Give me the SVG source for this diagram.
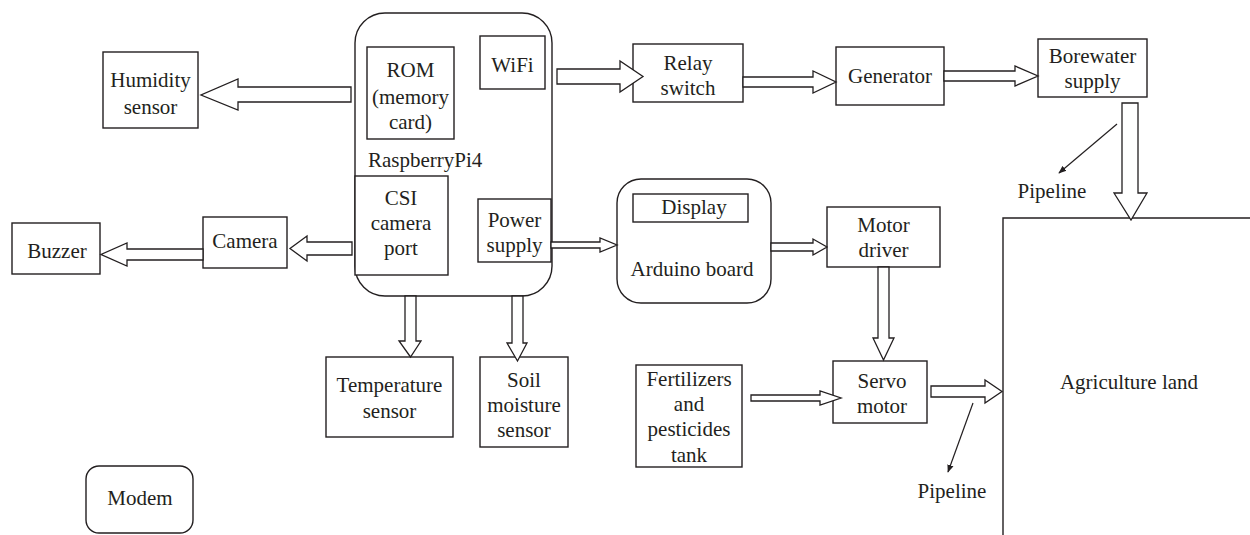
<svg xmlns="http://www.w3.org/2000/svg" width="1250" height="535" viewBox="0 0 1250 535">
<defs>
<style>
.box{fill:#fff;stroke:#231f20;stroke-width:1.4}
.ln{fill:none;stroke:#231f20;stroke-width:1.4}
.ar{fill:#fff;stroke:#231f20;stroke-width:1.3;stroke-linejoin:miter}
.pl{fill:none;stroke:#231f20;stroke-width:1.2}
text{font-family:"Liberation Serif","Times New Roman",serif;font-size:21px;fill:#231f20;text-anchor:middle}
</style>
<marker id="ah" viewBox="0 0 10 10" refX="9" refY="5" markerWidth="8" markerHeight="8" markerUnits="userSpaceOnUse" orient="auto"><path d="M0,1 L10,5 L0,9 z" fill="#231f20"/></marker>
</defs>
<rect width="1250" height="535" fill="#fff"/>

<g id="raspberry">
<rect class="box" x="355" y="13" width="197" height="283" rx="30"/>
<text x="368" y="167" style="text-anchor:start">RaspberryPi4</text>
</g>
<g id="rom">
<rect class="box" x="367" y="47" width="87" height="92"/>
<text x="410.5" y="77">ROM</text>
<text x="410.5" y="104">(memory</text>
<text x="410.5" y="129">card)</text>
</g>
<g id="wifi">
<rect class="box" x="480" y="36" width="65" height="53"/>
<text x="512.5" y="72">WiFi</text>
</g>
<g id="csi">
<rect class="box" x="355" y="176" width="93" height="99"/>
<text x="401" y="205">CSI</text>
<text x="401" y="230">camera</text>
<text x="401" y="255">port</text>
</g>
<g id="power">
<rect class="box" x="478" y="199" width="73" height="63"/>
<text x="514.5" y="227">Power</text>
<text x="514.5" y="252">supply</text>
</g>
<g id="humidity">
<rect class="box" x="103" y="52" width="95" height="76"/>
<text x="150.5" y="87">Humidity</text>
<text x="150.5" y="114">sensor</text>
</g>
<g id="relay">
<rect class="box" x="633" y="44" width="110" height="58"/>
<text x="688" y="70">Relay</text>
<text x="688" y="95">switch</text>
</g>
<g id="generator">
<rect class="box" x="836" y="47" width="108" height="58"/>
<text x="890" y="83">Generator</text>
</g>
<g id="borewater">
<rect class="box" x="1038" y="39" width="109" height="58"/>
<text x="1092.5" y="63">Borewater</text>
<text x="1092.5" y="88">supply</text>
</g>
<g id="arduino">
<rect class="box" x="617" y="179" width="154" height="124" rx="24"/>
<text x="692" y="276">Arduino board</text>
</g>
<g id="display">
<rect class="box" x="633" y="194" width="115" height="28"/>
<text x="694" y="214">Display</text>
</g>
<g id="motordriver">
<rect class="box" x="827" y="207" width="113" height="60"/>
<text x="883.5" y="232">Motor</text>
<text x="883.5" y="257">driver</text>
</g>
<g id="camera">
<rect class="box" x="203" y="217" width="84" height="51"/>
<text x="245" y="248">Camera</text>
</g>
<g id="buzzer">
<rect class="box" x="12" y="223" width="88" height="51"/>
<text x="57" y="258">Buzzer</text>
</g>
<g id="temperature">
<rect class="box" x="326" y="357" width="127" height="80"/>
<text x="389.5" y="392">Temperature</text>
<text x="389.5" y="418">sensor</text>
</g>
<g id="soil">
<rect class="box" x="480" y="357" width="88" height="90"/>
<text x="524" y="387">Soil</text>
<text x="524" y="412">moisture</text>
<text x="524" y="437">sensor</text>
</g>
<g id="fertilizers">
<rect class="box" x="636" y="365" width="106" height="102"/>
<text x="689" y="386">Fertilizers</text>
<text x="689" y="411">and</text>
<text x="689" y="436">pesticides</text>
<text x="689" y="462">tank</text>
</g>
<g id="servo">
<rect class="box" x="833" y="361" width="94" height="62"/>
<text x="882" y="388">Servo</text>
<text x="882" y="413">motor</text>
</g>
<g id="agriculture">
<path class="ln" d="M1003,535 V218 H1250"/>
<text x="1129" y="389">Agriculture land</text>
</g>
<g id="modem">
<rect class="box" x="86" y="466" width="107" height="67" rx="13"/>
<text x="140" y="505">Modem</text>
</g>
<g id="pipeline-labels">
<text x="1052" y="198">Pipeline</text>
<text x="952" y="498">Pipeline</text>
</g>

<g id="connectors">
<polygon class="ar" points="351,87 238,87 238,79 201,95 238,110 238,102 351,102"/>
<polygon class="ar" points="557,69 620,69 620,61 643,76.5 620,92 620,84 557,84"/>
<polygon class="ar" points="743,77 813,77 813,71 836,82 813,93 813,87 743,87"/>
<polygon class="ar" points="944,71 1015,71 1015,66 1038,76 1015,86 1015,81 944,81"/>
<polygon class="ar" points="1122,103 1138,103 1138,193 1147,193 1131,220 1114,193 1122,193"/>
<polygon class="ar" points="551,242 600,242 600,238 617,245 600,252 600,248 551,248"/>
<polygon class="ar" points="771,243 813,243 813,239 827,247 813,255 813,251 771,251"/>
<polygon class="ar" points="878,267 889,267 889,338 894,338 883.5,360 873,338 878,338"/>
<polygon class="ar" points="751,395 820,395 820,391 841,398 820,405 820,401 751,401"/>
<polygon class="ar" points="931,386 985,386 985,380 1002,391.5 985,403 985,397 931,397"/>
<polygon class="ar" points="352,242 307,242 307,236 290,248.5 307,261 307,255 352,255"/>
<polygon class="ar" points="203,249 127,249 127,243 101,254.5 127,266 127,260 203,260"/>
<polygon class="ar" points="405,296 416,296 416,341 421,341 410.5,357 399,341 405,341"/>
<polygon class="ar" points="512,296 523,296 523,343 527,343 517.5,361 507,343 512,343"/>
<line class="pl" x1="1117" y1="124" x2="1059" y2="173" marker-end="url(#ah)"/>
<line class="pl" x1="973" y1="403" x2="948" y2="472" marker-end="url(#ah)"/>
</g>
</svg>
